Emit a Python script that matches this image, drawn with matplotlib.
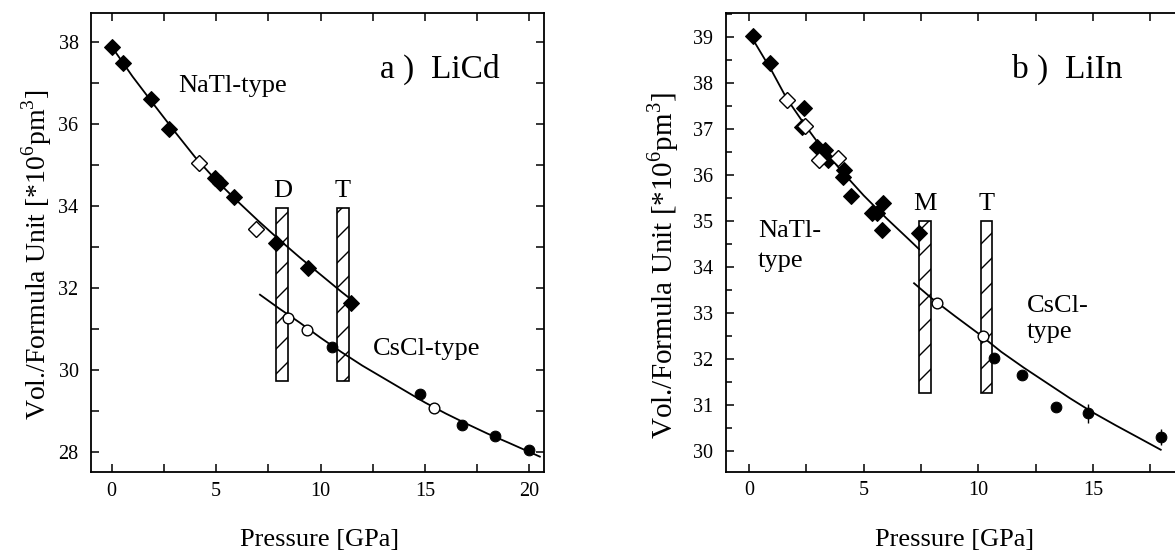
import matplotlib
matplotlib.use('Agg')
import matplotlib.pyplot as plt
from matplotlib.ticker import MultipleLocator, FuncFormatter

DPI = 75
S = 100 / DPI  # keep pixel sizes as designed for 100 dpi

plt.rcParams['font.family'] = ['Liberation Serif', 'DejaVu Serif']
plt.rcParams['mathtext.fontset'] = 'custom'
plt.rcParams['mathtext.rm'] = 'Liberation Serif'
plt.rcParams['hatch.linewidth'] = 1.0 * S

# ---------------- Panel a) LiCd ----------------
a_natl_solid_p = [0.0, 0.53, 1.87, 2.76, 4.94, 5.18, 5.85, 7.86, 9.38, 11.48]
a_natl_solid_v = [37.88, 37.47, 36.60, 35.86, 34.67, 34.55, 34.22, 33.10, 32.48, 31.63]
a_natl_open_p = [4.19, 6.90]
a_natl_open_v = [35.03, 33.44]
a_cscl_solid_p = [10.57, 14.75, 16.78, 18.34, 20.0]
a_cscl_solid_v = [30.56, 29.41, 28.65, 28.38, 28.05]
a_cscl_open_p = [8.45, 9.33, 15.44]
a_cscl_open_v = [31.27, 30.97, 29.06]
a_fit_natl_p = [0, 1, 2, 3, 4, 5, 6, 7, 8, 9, 10, 11, 11.6]
a_fit_natl_v = [37.88, 37.15, 36.48, 35.82, 35.18, 34.62, 34.12, 33.64, 33.18, 32.74, 32.32, 31.90, 31.66]
a_fit_cscl_p = [7.1, 8, 9, 10, 11, 12, 13, 14, 15, 16, 17, 18, 19, 20.5]
a_fit_cscl_v = [31.83, 31.50, 31.15, 30.78, 30.43, 30.10, 29.80, 29.50, 29.20, 28.93, 28.68, 28.44, 28.22, 27.88]
a_bar_labels = ['D', 'T']
a_bar_left = [7.89, 10.77]
a_bar_right = [8.45, 11.35]
a_bar_bottom = 29.72
a_bar_top = 33.94

# ---------------- Panel b) LiIn ----------------
b_natl_solid_p = [0.19, 0.92, 2.40, 2.30, 2.95, 3.31, 3.46, 4.14, 4.09, 4.43, 5.35, 5.57, 5.83, 5.79, 7.43]
b_natl_solid_v = [39.01, 38.42, 37.44, 37.03, 36.61, 36.54, 36.32, 36.10, 35.94, 35.54, 35.16, 35.16, 35.38, 34.80, 34.73]
b_natl_open_p = [1.64, 2.44, 3.07, 3.87]
b_natl_open_v = [37.62, 37.06, 36.32, 36.36]
b_cscl_solid_p = [10.68, 11.89, 13.39, 14.80, 17.96]
b_cscl_solid_v = [32.01, 31.65, 30.94, 30.81, 30.30]
b_cscl_solid_err = [0.0, 0.0, 0.0, 0.20, 0.18]
b_cscl_open_p = [8.21, 10.19]
b_cscl_open_v = [33.22, 32.49]
b_fit_natl_p = [0.1, 1, 1.64, 2.44, 3, 4, 5, 6, 7, 7.42]
b_fit_natl_v = [39.0, 38.25, 37.66, 37.08, 36.70, 36.10, 35.55, 35.05, 34.58, 34.38]
b_fit_cscl_p = [7.2, 8, 9, 10, 11, 12, 13, 14, 15, 16, 17, 17.96]
b_fit_cscl_v = [33.64, 33.30, 32.92, 32.55, 32.15, 31.80, 31.47, 31.14, 30.83, 30.55, 30.28, 30.02]
b_bar_labels = ['M', 'T']
b_bar_left = [7.42, 10.10]
b_bar_right = [7.92, 10.62]
b_bar_bottom = 31.25
b_bar_top = 35.0

W, H = 1175, 551
fig = plt.figure(figsize=(W / DPI, H / DPI), dpi=DPI)

axA = fig.add_axes([91 / W, 1 - 472 / H, (544 - 91) / W, (472 - 13) / H])
axB = fig.add_axes([726 / W, 1 - 471.7 / H, (1180 - 726) / W, (471.7 - 13.3) / H])

axA.set_xlim(-0.99, 20.7)
axA.set_ylim(27.505, 38.70)
axB.set_xlim(-1.003, 18.80)
axB.set_ylim(29.543, 39.509)


def draw_panel(ax, bl, br, bb, bt, blabels, label_v, fits, natl_s, natl_o, cscl_s, cscl_o, errs=None):
    for l, r, lab in zip(bl, br, blabels):
        ax.bar(l, bt - bb, width=r - l, bottom=bb, align='edge', facecolor='white',
               edgecolor='black', hatch='/', linewidth=1.2 * S, zorder=1)
        ax.text((l + r) / 2, label_v, lab, ha='center', va='baseline', fontsize=19 * S, zorder=5)
    for fp, fv in fits:
        ax.plot(fp, fv, color='black', lw=1.3 * S, zorder=2)
    ax.plot(natl_s[0], natl_s[1], ls='none', marker='D', ms=8.2 * S, mfc='black', mec='black', zorder=3)
    ax.plot(natl_o[0], natl_o[1], ls='none', marker='D', ms=8.2 * S, mfc='white', mec='black',
            mew=1.0 * S, zorder=3)
    if errs is None:
        ax.plot(cscl_s[0], cscl_s[1], ls='none', marker='o', ms=7.7 * S, mfc='black', mec='black', zorder=3)
    else:
        ax.errorbar(cscl_s[0], cscl_s[1], yerr=errs, ls='none', marker='o', ms=7.7 * S, mfc='black',
                    mec='black', ecolor='black', elinewidth=1.0 * S, capsize=0, zorder=3)
    ax.plot(cscl_o[0], cscl_o[1], ls='none', marker='o', ms=7.7 * S, mfc='white', mec='black',
            mew=1.0 * S, zorder=3)
    for s in ax.spines.values():
        s.set_linewidth(1.3 * S)


draw_panel(axA, a_bar_left, a_bar_right, a_bar_bottom, a_bar_top, a_bar_labels, 34.22,
           [(a_fit_natl_p, a_fit_natl_v), (a_fit_cscl_p, a_fit_cscl_v)],
           (a_natl_solid_p, a_natl_solid_v), (a_natl_open_p, a_natl_open_v),
           (a_cscl_solid_p, a_cscl_solid_v), (a_cscl_open_p, a_cscl_open_v))
draw_panel(axB, b_bar_left, b_bar_right, b_bar_bottom, b_bar_top, b_bar_labels, 35.23,
           [(b_fit_natl_p, b_fit_natl_v), (b_fit_cscl_p, b_fit_cscl_v)],
           (b_natl_solid_p, b_natl_solid_v), (b_natl_open_p, b_natl_open_v),
           (b_cscl_solid_p, b_cscl_solid_v), (b_cscl_open_p, b_cscl_open_v), errs=b_cscl_solid_err)

# ticks
fmt5 = FuncFormatter(lambda x, pos: f"{int(round(x))}" if abs(x / 5 - round(x / 5)) < 1e-6 else "")
fmt2 = FuncFormatter(lambda x, pos: f"{int(round(x))}" if abs(x / 2 - round(x / 2)) < 1e-6 else "")
fmt1 = FuncFormatter(lambda x, pos: f"{int(round(x))}" if abs(x - round(x)) < 1e-6 else "")

for ax, right in ((axA, True), (axB, False)):
    ax.xaxis.set_major_locator(MultipleLocator(2.5))
    ax.xaxis.set_major_formatter(fmt5)
    ax.tick_params(axis='both', which='both', direction='in', top=True, right=right,
                   labelsize=14.5 * S, width=1.1 * S)
    ax.tick_params(axis='x', which='major', length=6 * S, pad=7 * S)
    ax.tick_params(axis='y', which='major', length=6 * S, pad=9 * S)
    ax.tick_params(axis='y', which='minor', length=4 * S)

axA.yaxis.set_major_locator(MultipleLocator(1))
axA.yaxis.set_major_formatter(fmt2)
axB.yaxis.set_major_locator(MultipleLocator(1))
axB.yaxis.set_minor_locator(MultipleLocator(0.5))
axB.yaxis.set_major_formatter(fmt1)

# annotations
axA.text(3.17, 36.78, 'NaTl-type', fontsize=19 * S, ha='left', va='baseline')
axA.text(12.5, 30.36, 'CsCl-type', fontsize=19 * S, ha='left', va='baseline')
axA.text(12.84, 37.11, 'a )  LiCd', fontsize=24 * S, ha='left', va='baseline')

axB.text(0.39, 34.65, 'NaTl-', fontsize=19 * S, ha='left', va='baseline')
axB.text(0.39, 34.00, 'type', fontsize=19 * S, ha='left', va='baseline')
axB.text(12.11, 33.02, 'CsCl-', fontsize=19 * S, ha='left', va='baseline')
axB.text(12.11, 32.44, 'type', fontsize=19 * S, ha='left', va='baseline')
axB.text(11.47, 38.10, 'b )  LiIn', fontsize=24 * S, ha='left', va='baseline')

ylab = r'Vol./Formula Unit [*10$^{\mathregular{6}}$pm$^{\mathregular{3}}$]'
fig.text(37 / W, 1 - 255 / H, ylab, rotation=90, ha='center', va='center', fontsize=20 * S)
fig.text(663 / W, 1 - 266 / H, ylab, rotation=90, ha='center', va='center', fontsize=21 * S)
fig.text(320 / W, 1 - 540 / H, 'Pressure [GPa]', ha='center', va='center', fontsize=19 * S)
fig.text(955 / W, 1 - 540 / H, 'Pressure [GPa]', ha='center', va='center', fontsize=19 * S)

fig.savefig('out.png', dpi=DPI)
